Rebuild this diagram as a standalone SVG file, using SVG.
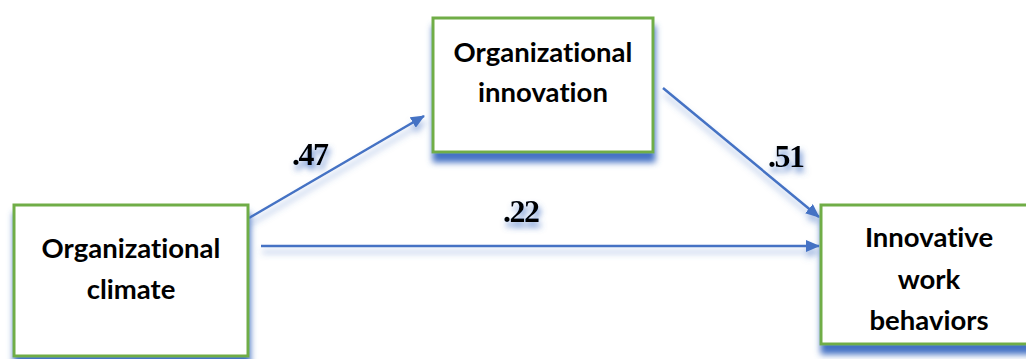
<svg xmlns="http://www.w3.org/2000/svg" width="1026" height="359" viewBox="0 0 1026 359">
<style>
.box{fill:#fff;stroke:#70AD47;stroke-width:3}
.lbl{font-family:Lato,"Open Sans",sans-serif;font-weight:bold;font-size:27.5px;fill:#000;text-anchor:middle;font-variant-ligatures:none}
.num{font-family:"Liberation Serif","Times New Roman",serif;font-weight:bold;font-size:32px;fill:#000;letter-spacing:-1.5px}
.conn{stroke:#4472C4;stroke-width:2.5;fill:none;marker-end:url(#ah)}
</style>
<defs>
<filter id="bs" x="-10%" y="-20%" width="120%" height="150%">
<feDropShadow dx="1" dy="9" stdDeviation="3" flood-color="#4472C4" flood-opacity="1"/>
</filter>
<filter id="ls" x="-10%" y="-50%" width="120%" height="200%">
<feDropShadow dx="1" dy="6" stdDeviation="3" flood-color="#4472C4" flood-opacity="0.5"/>
</filter>
<filter id="ts" x="-30%" y="-30%" width="160%" height="180%">
<feDropShadow dx="2" dy="5" stdDeviation="3" flood-color="#4472C4" flood-opacity="0.85"/>
</filter>
<marker id="ah" markerWidth="14" markerHeight="12" refX="13" refY="6" orient="auto" markerUnits="userSpaceOnUse">
<path d="M0,0 L14,6 L0,12 Z" fill="#4472C4"/>
</marker>
</defs>
<g id="connectors" filter="url(#ls)">
<line class="conn" x1="249" y1="218" x2="424" y2="116"/>
<line class="conn" x1="663" y1="88" x2="819" y2="217"/>
<line class="conn" x1="261" y1="246" x2="819" y2="246"/>
</g>
<g id="lbl47" filter="url(#ts)"><text class="num" x="292" y="165">.47</text></g>
<g id="lbl22" filter="url(#ts)"><text class="num" x="503" y="222">.22</text></g>
<g id="lbl51" filter="url(#ts)"><text class="num" x="768" y="167">.51</text></g>
<g id="org-innovation">
<rect class="box" x="433" y="18" width="220" height="134" filter="url(#bs)"/>
<text class="lbl" x="543" y="62">Organizational</text>
<text class="lbl" x="543" y="102">innovation</text>
</g>
<g id="org-climate">
<rect class="box" x="14" y="205" width="234" height="151" filter="url(#bs)"/>
<text class="lbl" x="131" y="258">Organizational</text>
<text class="lbl" x="131" y="299">climate</text>
</g>
<g id="innovative-work">
<rect class="box" x="821" y="205" width="220" height="139" filter="url(#bs)"/>
<text class="lbl" x="929" y="247">Innovative</text>
<text class="lbl" x="929" y="289">work</text>
<text class="lbl" x="929" y="330">behaviors</text>
</g>
</svg>
